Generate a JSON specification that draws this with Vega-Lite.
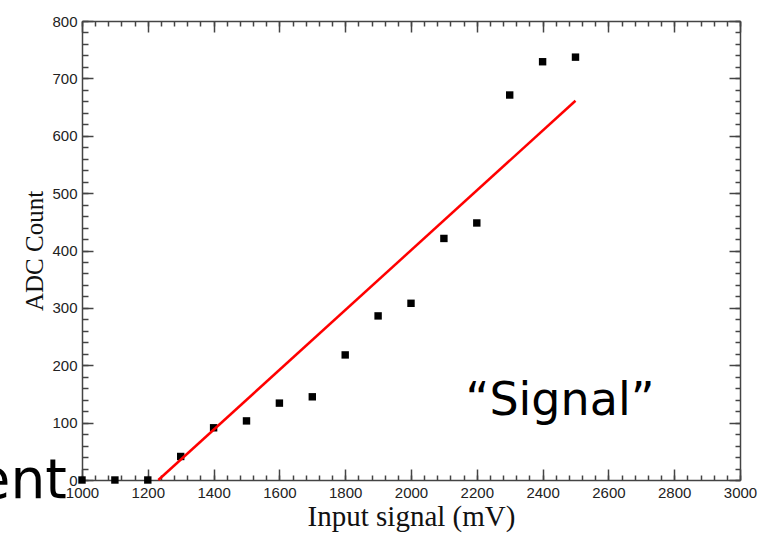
{
  "$schema": "https://vega.github.io/schema/vega-lite/v6.json",
  "width": 658,
  "height": 459,
  "autosize": "none",
  "padding": {"left": 82, "top": 21, "right": 33, "bottom": 61},
  "background": "white",
  "config": {
    "view": {"stroke": null},
    "axis": {
      "grid": false,
      "domainColor": "#444",
      "tickColor": "#444",
      "domainWidth": 1.5,
      "tickWidth": 1.5,
      "labelFont": "Liberation Sans",
      "labelFontSize": 15,
      "labelColor": "#222",
      "titleFont": "Liberation Serif",
      "titleFontWeight": "normal",
      "titleColor": "#111"
    }
  },
  "datasets": {
    "pts": [
      {"signal": 1000, "adc": 0},
      {"signal": 1100, "adc": 0},
      {"signal": 1200, "adc": 0},
      {"signal": 1300, "adc": 41},
      {"signal": 1400, "adc": 91},
      {"signal": 1500, "adc": 103},
      {"signal": 1600, "adc": 134},
      {"signal": 1700, "adc": 145},
      {"signal": 1800, "adc": 218},
      {"signal": 1900, "adc": 286},
      {"signal": 2000, "adc": 308},
      {"signal": 2100, "adc": 421},
      {"signal": 2200, "adc": 448},
      {"signal": 2300, "adc": 671},
      {"signal": 2400, "adc": 729},
      {"signal": 2500, "adc": 737}
    ],
    "fit": [
      {"signal": 1232, "adc": 0},
      {"signal": 2500, "adc": 661}
    ],
    "note1": [{"signal": 2453, "adc": 113, "label": "“Signal”"}],
    "note2": [{"signal": 954, "adc": -31, "label": "ent"}]
  },
  "resolve": {"axis": {"x": "independent", "y": "independent"}},
  "layer": [
    {
      "data": {"name": "pts"},
      "mark": {"type": "point", "shape": "square", "filled": true, "color": "black", "size": 55, "opacity": 1},
      "encoding": {
        "x": {
          "field": "signal", "type": "quantitative",
          "scale": {"domain": [1000, 3000], "nice": false, "zero": false},
          "axis": {
            "orient": "bottom",
            "values": [1000, 1200, 1400, 1600, 1800, 2000, 2200, 2400, 2600, 2800, 3000],
            "format": "d",
            "tickSize": -11,
            "labelPadding": 16,
            "labelFlush": false,
            "labelOverlap": false,
            "title": "Input signal (mV)",
            "titleFontSize": 29,
            "titlePadding": 2
          }
        },
        "y": {
          "field": "adc", "type": "quantitative",
          "scale": {"domain": [0, 800], "nice": false, "zero": true},
          "axis": {
            "orient": "left",
            "values": [0, 100, 200, 300, 400, 500, 600, 700, 800],
            "format": "d",
            "tickSize": -11,
            "labelPadding": 16,
            "labelFlush": false,
            "labelOverlap": false,
            "title": "ADC Count",
            "titleFontSize": 25,
            "titlePadding": 4
          }
        }
      }
    },
    {
      "data": {"name": "fit"},
      "mark": {"type": "line", "color": "#ff0000", "strokeWidth": 2.5},
      "encoding": {
        "x": {
          "field": "signal", "type": "quantitative",
          "axis": {
            "orient": "top",
            "values": [1000, 1200, 1400, 1600, 1800, 2000, 2200, 2400, 2600, 2800, 3000],
            "tickSize": -11,
            "labels": false,
            "title": null
          }
        },
        "y": {
          "field": "adc", "type": "quantitative",
          "axis": {
            "orient": "right",
            "values": [0, 100, 200, 300, 400, 500, 600, 700, 800],
            "tickSize": -11,
            "labels": false,
            "title": null
          }
        }
      }
    },
    {
      "data": {"name": "note1"},
      "mark": {"type": "text", "font": "DejaVu Sans", "fontSize": 46, "color": "black", "align": "center", "baseline": "alphabetic"},
      "encoding": {
        "text": {"field": "label"},
        "x": {
          "field": "signal", "type": "quantitative",
          "axis": {
            "orient": "bottom",
            "values": [1000,1040,1080,1120,1160,1200,1240,1280,1320,1360,1400,1440,1480,1520,1560,1600,1640,1680,1720,1760,1800,1840,1880,1920,1960,2000,2040,2080,2120,2160,2200,2240,2280,2320,2360,2400,2440,2480,2520,2560,2600,2640,2680,2720,2760,2800,2840,2880,2920,2960,3000],
            "tickSize": -5,
            "domain": false,
            "labels": false,
            "title": null
          }
        },
        "y": {
          "field": "adc", "type": "quantitative",
          "axis": {
            "orient": "left",
            "values": [0,20,40,60,80,100,120,140,160,180,200,220,240,260,280,300,320,340,360,380,400,420,440,460,480,500,520,540,560,580,600,620,640,660,680,700,720,740,760,780,800],
            "tickSize": -6,
            "domain": false,
            "labels": false,
            "title": null
          }
        }
      }
    },
    {
      "data": {"name": "note2"},
      "mark": {"type": "text", "font": "DejaVu Sans", "fontSize": 55, "color": "black", "align": "right", "baseline": "alphabetic"},
      "encoding": {
        "text": {"field": "label"},
        "x": {
          "field": "signal", "type": "quantitative",
          "axis": {
            "orient": "top",
            "values": [1000,1040,1080,1120,1160,1200,1240,1280,1320,1360,1400,1440,1480,1520,1560,1600,1640,1680,1720,1760,1800,1840,1880,1920,1960,2000,2040,2080,2120,2160,2200,2240,2280,2320,2360,2400,2440,2480,2520,2560,2600,2640,2680,2720,2760,2800,2840,2880,2920,2960,3000],
            "tickSize": -5,
            "domain": false,
            "labels": false,
            "title": null
          }
        },
        "y": {
          "field": "adc", "type": "quantitative",
          "axis": {
            "orient": "right",
            "values": [0,20,40,60,80,100,120,140,160,180,200,220,240,260,280,300,320,340,360,380,400,420,440,460,480,500,520,540,560,580,600,620,640,660,680,700,720,740,760,780,800],
            "tickSize": -5,
            "domain": false,
            "labels": false,
            "title": null
          }
        }
      }
    }
  ]
}
